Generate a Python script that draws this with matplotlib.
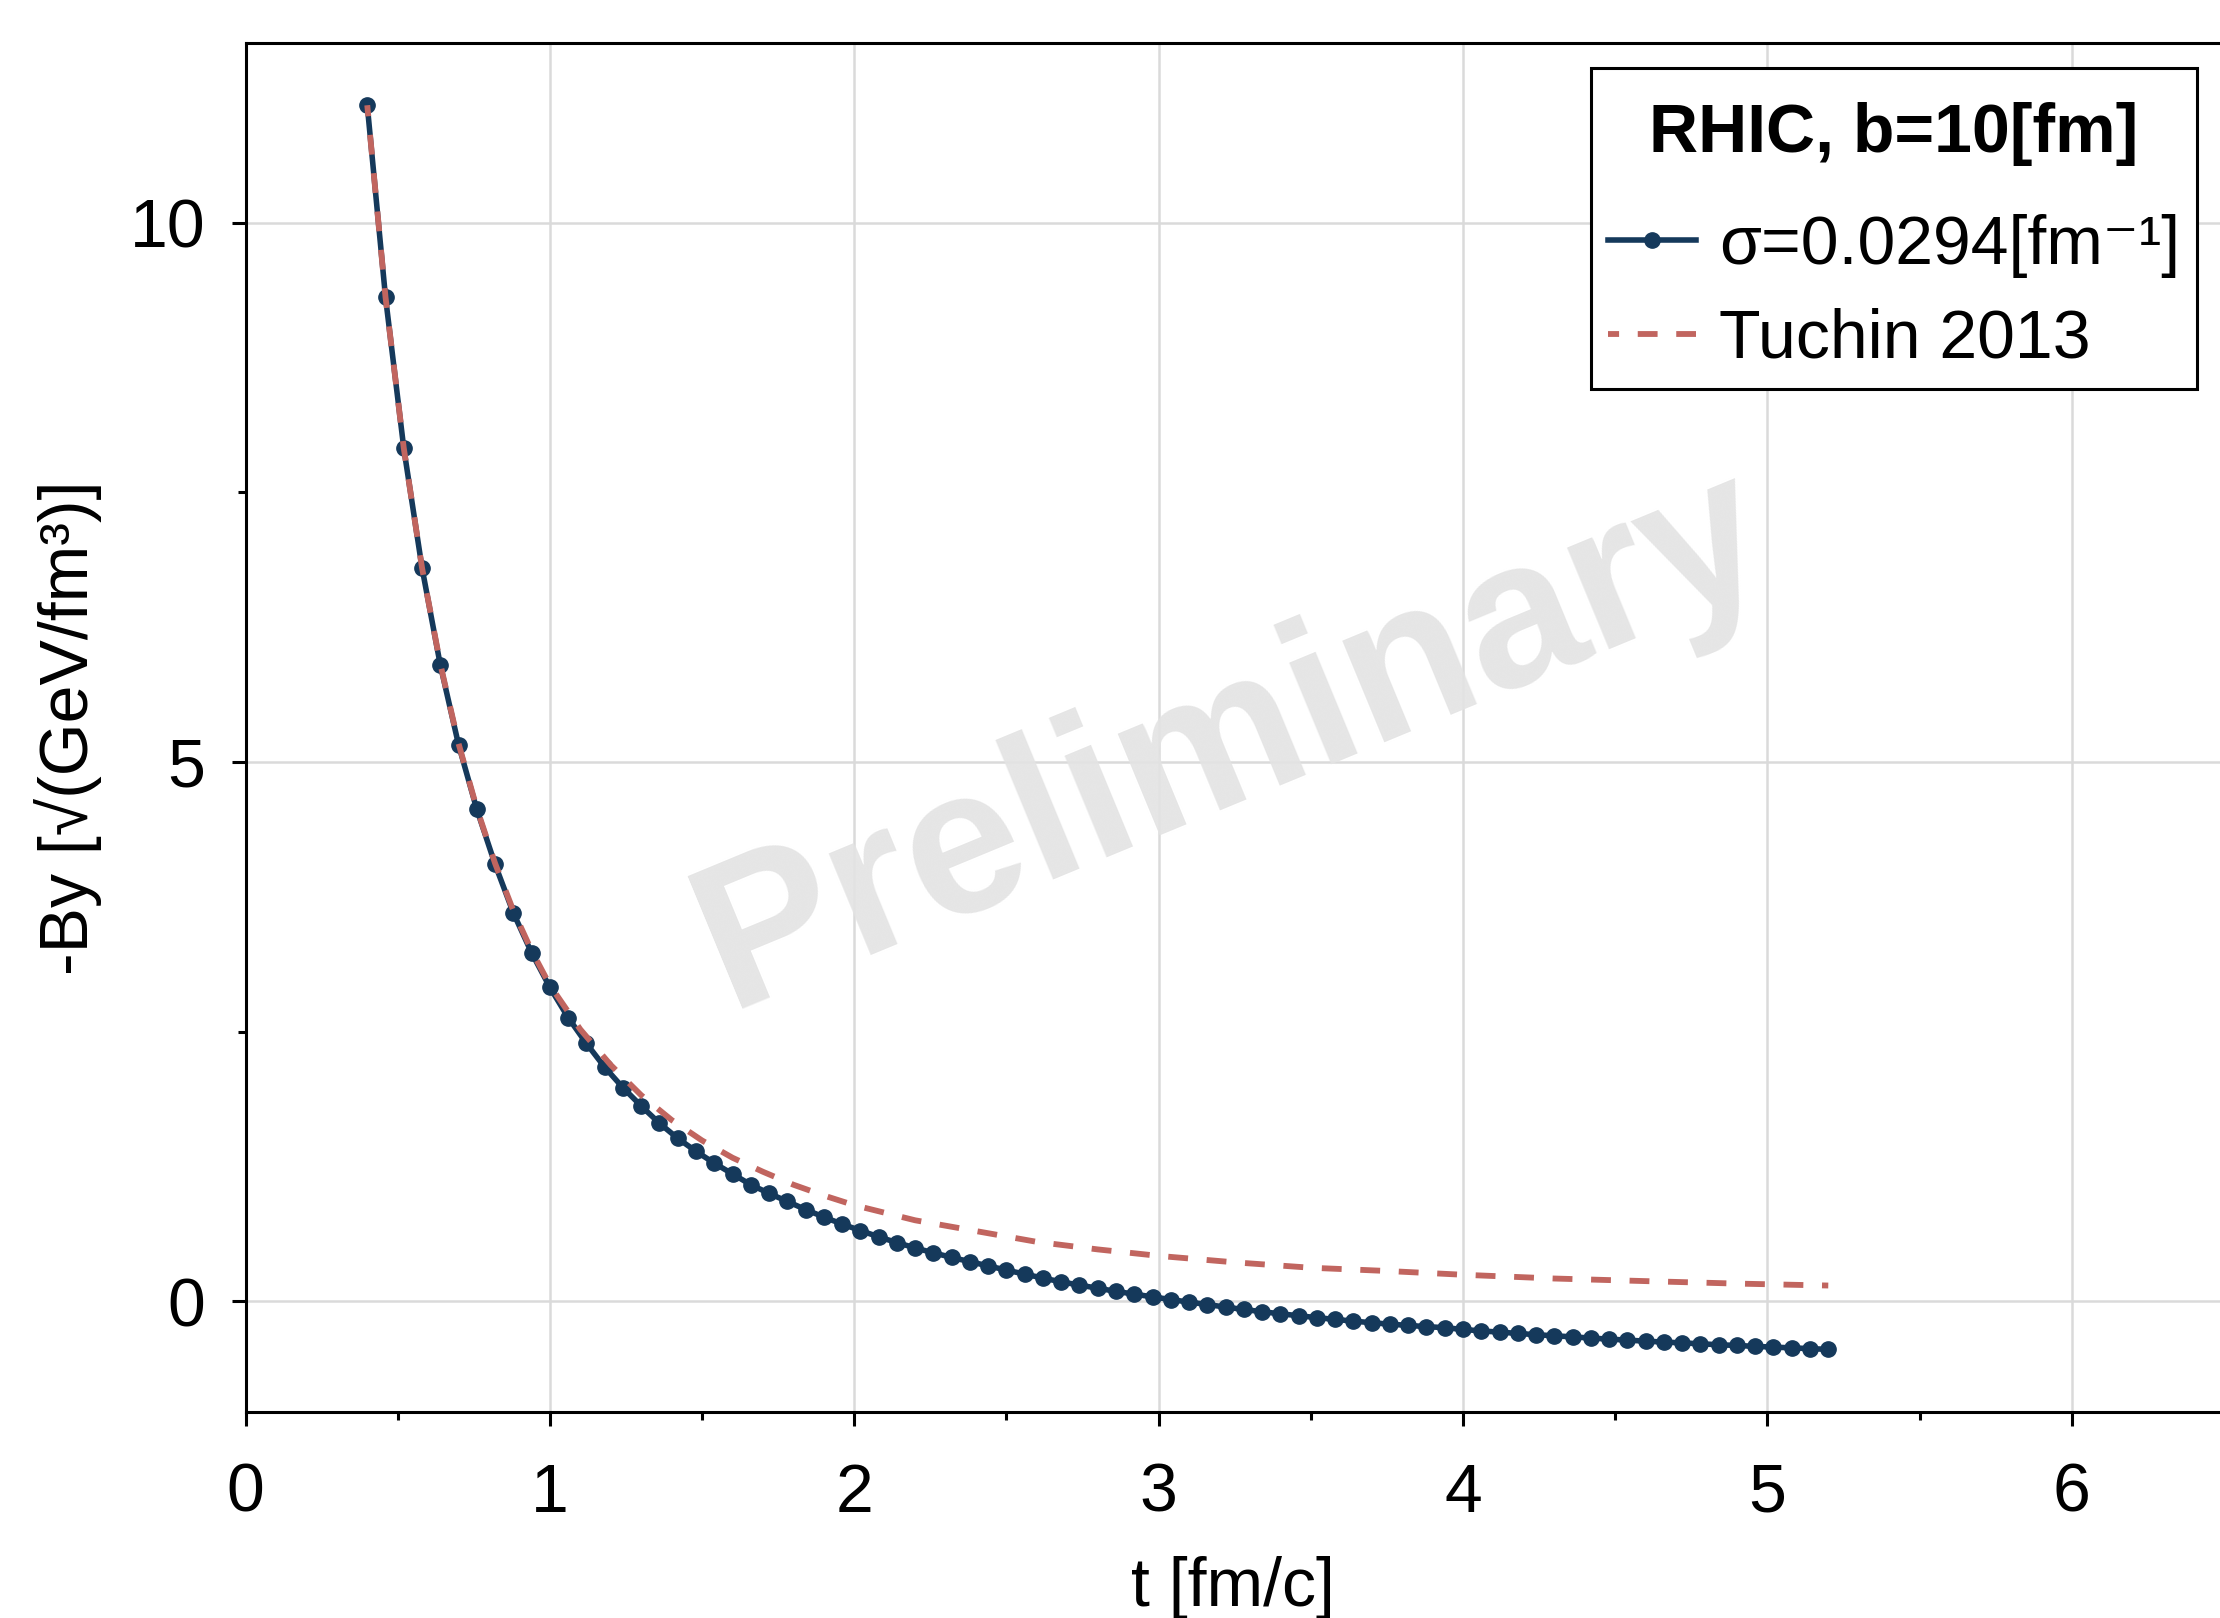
import numpy as np
import matplotlib
matplotlib.use("Agg")
import matplotlib.pyplot as plt
from matplotlib.ticker import MultipleLocator
from matplotlib.offsetbox import VPacker, DrawingArea

plt.rcParams['font.family'] = ['Liberation Sans', 'DejaVu Sans']

# sigma = 0.0294 fm^-1 result (markers every 0.06 fm/c)
t_sim = [0.40, 0.46, 0.52, 0.58, 0.64, 0.70, 0.76, 0.82, 0.88, 0.94,
         1.00, 1.06, 1.12, 1.18, 1.24, 1.30, 1.36, 1.42, 1.48, 1.54,
         1.60, 1.66, 1.72, 1.78, 1.84, 1.90, 1.96, 2.02, 2.08, 2.14,
         2.20, 2.26, 2.32, 2.38, 2.44, 2.50, 2.56, 2.62, 2.68, 2.74,
         2.80, 2.86, 2.92, 2.98, 3.04, 3.10, 3.16, 3.22, 3.28, 3.34,
         3.40, 3.46, 3.52, 3.58, 3.64, 3.70, 3.76, 3.82, 3.88, 3.94,
         4.00, 4.06, 4.12, 4.18, 4.24, 4.30, 4.36, 4.42, 4.48, 4.54,
         4.60, 4.66, 4.72, 4.78, 4.84, 4.90, 4.96, 5.02, 5.08, 5.14,
         5.20]
by_sim = [11.09, 9.31, 7.91, 6.80, 5.90, 5.16, 4.56, 4.05, 3.60, 3.23,
          2.91, 2.63, 2.39, 2.17, 1.98, 1.81, 1.65, 1.51, 1.39, 1.28,
          1.18, 1.08, 1.00, 0.925, 0.85, 0.78, 0.715, 0.655, 0.597, 0.543,
          0.494, 0.448, 0.406, 0.366, 0.327, 0.288, 0.251, 0.214, 0.179, 0.149,
          0.120, 0.091, 0.065, 0.040, 0.015, -0.009, -0.031, -0.055, -0.077, -0.098,
          -0.117, -0.135, -0.153, -0.169, -0.185, -0.200, -0.213, -0.225, -0.236, -0.246,
          -0.262, -0.276, -0.287, -0.299, -0.311, -0.321, -0.331, -0.342, -0.352, -0.361,
          -0.371, -0.379, -0.387, -0.395, -0.404, -0.411, -0.419, -0.426, -0.433, -0.440,
          -0.447]

# Tuchin 2013
t_tuchin = [0.40, 0.46, 0.52, 0.58, 0.64, 0.70, 0.76, 0.82, 0.88, 0.94,
            1.00, 1.10, 1.20, 1.30, 1.40, 1.50, 1.60, 1.70, 1.80, 1.90,
            2.00, 2.20, 2.40, 2.60, 2.80, 3.00, 3.25, 3.50, 3.75, 4.00,
            4.30, 4.60, 4.90, 5.20]
by_tuchin = [11.09, 9.31, 7.91, 6.80, 5.91, 5.17, 4.57, 4.06, 3.62, 3.25,
             2.93, 2.52, 2.19, 1.91, 1.68, 1.49, 1.33, 1.20, 1.08, 0.98,
             0.89, 0.75, 0.65, 0.55, 0.48, 0.42, 0.36, 0.31, 0.28, 0.245,
             0.21, 0.186, 0.163, 0.145]

BLUE = "#15395b"
RED = "#c1655f"
FS = 49

fig = plt.figure(figsize=(22.2, 16.18), dpi=100)
ax = fig.add_axes([245.5 / 2220, 1 - 1411.6 / 1618, 1 - 245.5 / 2220, (1411.6 - 43) / 1618])

ax.plot(t_sim, by_sim, color=BLUE, lw=4.0, marker='o', ms=11,
        label="σ=0.0294[fm⁻¹]", zorder=3)
ax.plot(t_tuchin, by_tuchin, color=RED, lw=4.2, ls=(1.5, (3.4, 3.2)),
        label="Tuchin 2013", zorder=4)

ax.set_xlim(0, 6.487)
ax.set_ylim(-1.024, 11.667)
ax.xaxis.set_major_locator(MultipleLocator(1))
ax.xaxis.set_minor_locator(MultipleLocator(0.5))
ax.yaxis.set_major_locator(MultipleLocator(5))
ax.yaxis.set_minor_locator(MultipleLocator(2.5))

ax.grid(True, which='major', color='#dadada', lw=1.8)
ax.set_axisbelow(True)

for s in ['left', 'bottom', 'top']:
    ax.spines[s].set_linewidth(2.2)
ax.spines['right'].set_visible(False)

ax.tick_params(which='major', direction='out', length=10, width=2.2,
               labelsize=FS, top=False, right=False)
ax.tick_params(which='minor', direction='out', length=6, width=2.2,
               top=False, right=False)
ax.tick_params(axis='x', which='major', pad=26)
ax.tick_params(axis='y', which='major', pad=19)

ax.set_xlabel("t [fm/c]", fontsize=FS, labelpad=22)
ax.set_ylabel("-By [√(GeV/fm³)]", fontsize=FS, labelpad=20)

# watermark
ax.text(0.5, 0.49, "Preliminary", transform=ax.transAxes, fontsize=150,
        fontweight='bold', color='#e3e3e3', alpha=0.9, rotation=22.5,
        ha='center', va='center', rotation_mode='anchor', zorder=1)

leg = ax.legend(loc='upper right', bbox_to_anchor=(2197 / 2220, 1 - 68 / 1618),
                bbox_transform=fig.transFigure, borderaxespad=0,
                fontsize=FS, title="RHIC, b=10[fm]",
                title_fontproperties={'weight': 'bold', 'size': FS},
                fancybox=False, framealpha=1, edgecolor='black',
                handlelength=1.3, handletextpad=0.33, borderpad=0.25,
                labelspacing=0.43)
leg.get_frame().set_linewidth(2.2)
# more room above and below the legend title
title_box = leg._legend_box._children[0]
leg._legend_box._children[0] = VPacker(children=[DrawingArea(1, 12), title_box],
                                       pad=0, sep=0, align='center')
leg._legend_box.sep = 35

fig.savefig("out.png", dpi=100)
